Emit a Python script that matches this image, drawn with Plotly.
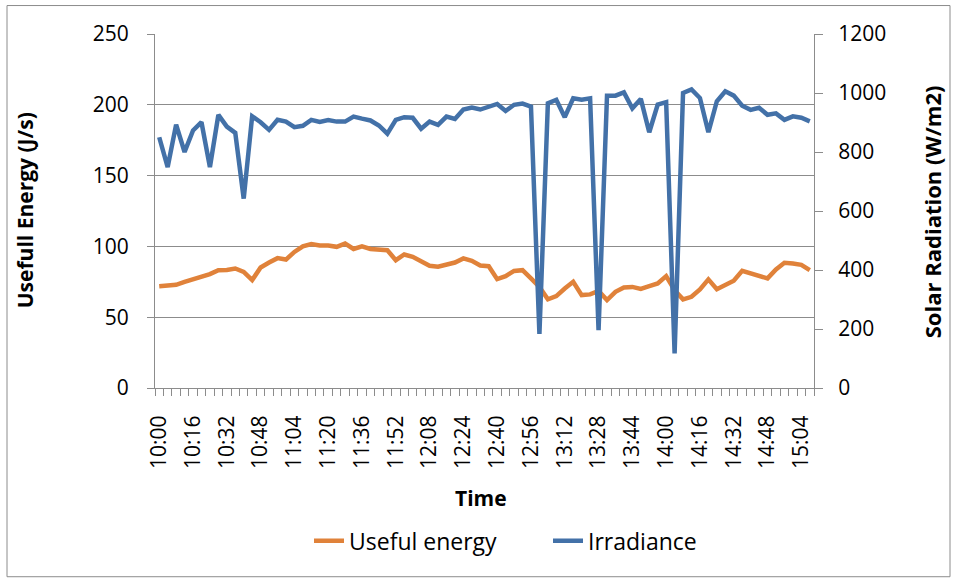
import plotly.graph_objects as go

# Categories: every 4 minutes from 10:00 to 15:08
times = []
for k in range(78):
    m = 600 + 4 * k
    times.append(f"{m // 60}:{m % 60:02d}")

useful_energy = [71.9, 72.1, 72.9, 75.0, 76.6, 78.0, 80.4, 83.2, 83.4, 84.4,
                 82.0, 76.2, 85.1, 88.6, 91.7, 90.7, 96.1, 100.1, 101.6, 100.6,
                 100.6, 99.7, 102.0, 98.2, 100.1, 98.2, 97.5, 97.3, 90.3, 94.3,
                 92.6, 89.1, 86.3, 85.6, 87.4, 88.6, 91.5, 89.8, 86.5, 86.0,
                 76.9, 79.0, 82.7, 83.2, 77.4, 71.4, 62.6, 64.9, 70.3, 75.0,
                 65.6, 66.1, 68.6, 62.1, 67.9, 71.0, 71.4, 70.0, 71.9, 73.8,
                 79.0, 69.1, 62.6, 64.4, 69.6, 76.7, 69.8, 72.6, 75.7, 82.7,
                 80.9, 78.5, 77.4, 83.7, 88.4, 87.9, 87.0, 83.2]

irradiance = [850, 749, 893, 800, 873, 901, 749, 926, 886, 865,
              642, 921, 901, 875, 909, 903, 884, 889, 909, 902,
              908, 903, 903, 920, 913, 907, 890, 862, 909, 918,
              916, 879, 903, 892, 920, 912, 944, 951, 944, 953,
              963, 939, 960, 964, 954, 183, 965, 977, 918, 982,
              977, 982, 196, 991, 991, 1002, 948, 980, 867, 961,
              969, 117, 1000, 1012, 983, 867, 972, 1006, 991, 957,
              943, 950, 926, 931, 909, 921, 916, 904]

label_step = 4
idx = list(range(len(times)))
tick_idx = idx[::label_step]
tick_txt = [times[i] for i in tick_idx]

ORANGE = "#E0823A"
BLUE = "#4371A8"
GRID = "#8C8C8C"
FONT = "Open Sans"

fig = go.Figure()
fig.add_trace(go.Scatter(x=idx, y=useful_energy, name="Useful energy", mode="lines",
                         line=dict(color=ORANGE, width=4.5), yaxis="y"))
fig.add_trace(go.Scatter(x=idx, y=irradiance, name="Irradiance", mode="lines",
                         line=dict(color=BLUE, width=4.5), yaxis="y2"))

L, R, T, B = 155, 814, 33.5, 388
W, H = 956, 581
pw, ph = R - L, B - T
def px(x):
    return (x - L) / pw
def py(y):
    return (B - y) / ph

fig.update_layout(
    width=W, height=H,
    margin=dict(l=L, r=W - R, t=T, b=H - B, pad=0),
    paper_bgcolor="white", plot_bgcolor="white",
    font=dict(family=FONT, size=21, color="black"),
    showlegend=True,
    legend=dict(orientation="h", x=px(309), y=py(541), xanchor="left", yanchor="middle",
                font=dict(size=23), entrywidth=194, entrywidthmode="pixels",
                traceorder="normal", bgcolor="rgba(0,0,0,0)"),
    xaxis=dict(range=[-0.5, len(times) - 0.5], tickmode="array", tickvals=tick_idx,
               ticktext=tick_txt, tickangle=-90, ticks="", showgrid=False,
               showline=True, linecolor=GRID, linewidth=1, zeroline=False,
               ticklabelstandoff=18,
               minor=dict(tick0=-0.5, dtick=1, ticks="outside", ticklen=7,
                          tickcolor=GRID, showgrid=False)),
    yaxis=dict(range=[0, 250], dtick=50, showgrid=True, gridcolor=GRID, gridwidth=1,
               showline=True, linecolor=GRID, linewidth=1, ticks="outside", ticklen=7,
               tickcolor=GRID, zeroline=False, ticklabelstandoff=14),
    yaxis2=dict(range=[0, 1200], dtick=200, overlaying="y", side="right", showgrid=False,
                showline=True, linecolor=GRID, linewidth=1, ticks="outside", ticklen=8,
                tickcolor=GRID, zeroline=False, ticklabelstandoff=11),
    annotations=[
        dict(text="<b>Usefull Energy (J/s)</b>", x=px(25), y=py(210), xref="paper", yref="paper",
             textangle=-90, showarrow=False, font=dict(size=21), xanchor="center", yanchor="middle"),
        dict(text="<b>Solar Radiation (W/m2)</b>", x=px(932), y=py(212), xref="paper", yref="paper",
             textangle=-90, showarrow=False, font=dict(size=22), xanchor="center", yanchor="middle"),
        dict(text="<b>Time</b>", x=px(481), y=py(498), xref="paper", yref="paper",
             showarrow=False, font=dict(size=21), xanchor="center", yanchor="middle"),
    ],
    shapes=[dict(type="rect", xref="paper", yref="paper", x0=px(7), x1=px(950),
                 y0=py(577), y1=py(5), line=dict(color=GRID, width=1), fillcolor="rgba(0,0,0,0)",
                 layer="below")],
)

fig.write_html("out.html")
